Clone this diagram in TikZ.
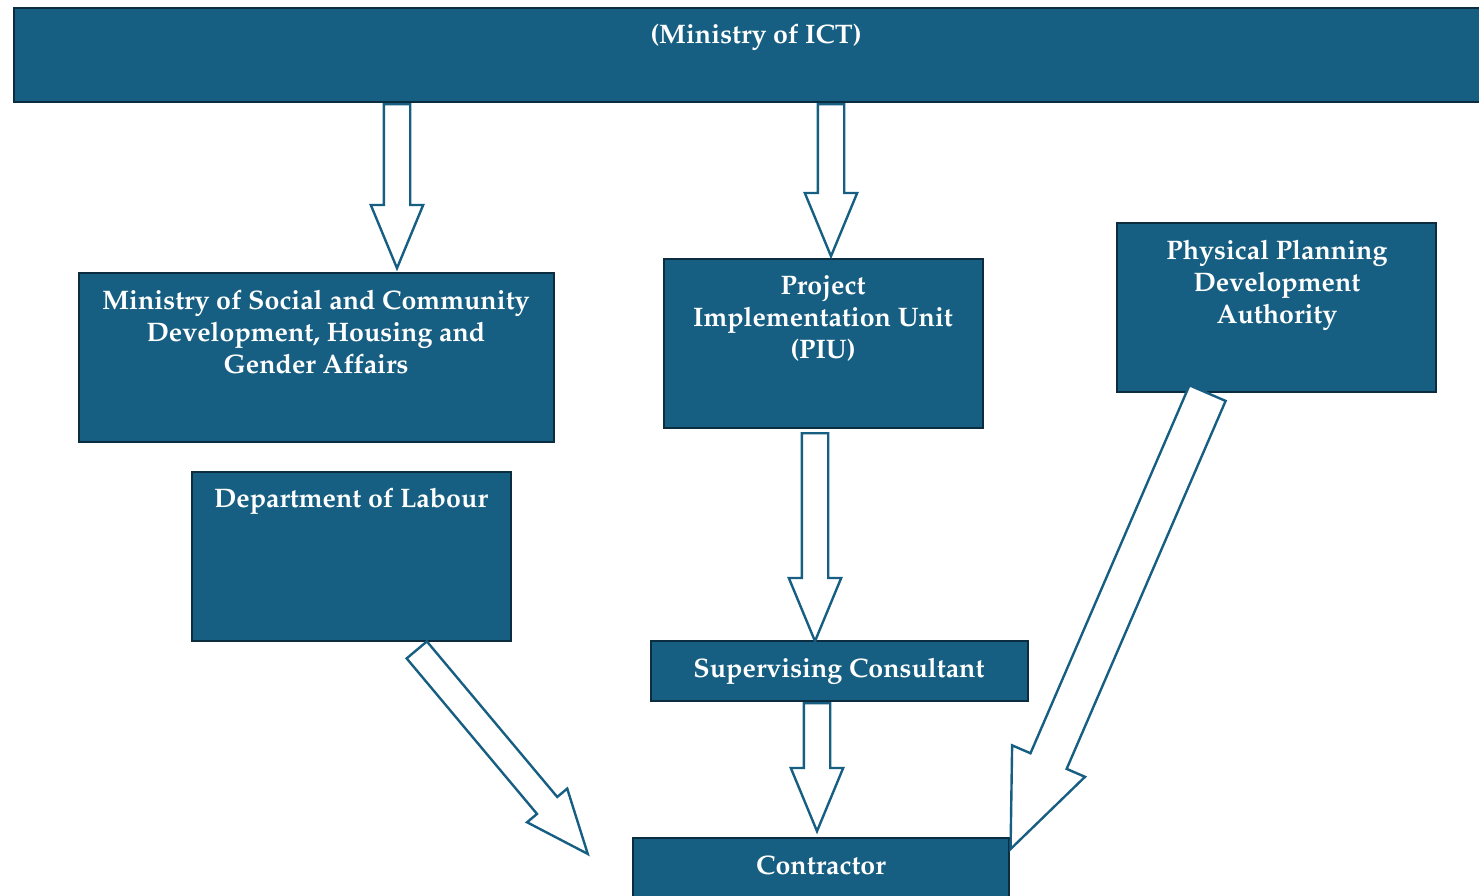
\documentclass[tikz,border=0pt]{standalone}
\usepackage[T1]{fontenc}
\renewcommand{\rmdefault}{ppl}
\usepackage{tikz}
\usetikzlibrary{shapes.arrows,calc}
\definecolor{orgblue}{RGB}{23,95,130}
\definecolor{orgdark}{RGB}{12,45,64}
\tikzstyle{unit} = [rectangle, draw=orgdark, fill=orgblue, line width=1pt, inner sep=0pt]
\tikzstyle{unittext} = [text=white, font=\fontsize{13.4}{16}\selectfont\bfseries, align=center, inner sep=0pt, anchor=north]
\tikzstyle{flow} = [single arrow, draw=orgblue, fill=white, line width=1.2pt, inner xsep=0pt, inner ysep=6pt, single arrow head extend=6.5pt, single arrow tip angle=45, sloped, allow upside down, pos=0, anchor=tail]
\tikzstyle{bigflow} = [flow, inner ysep=9.25pt, single arrow head extend=10pt]
\newcommand{\flowarrow}[2][flow]{\path let \p1=($(#2-e)-(#2-s)$), \n1={veclen(\x1,\y1)} in (#2-s) -- node[#1, minimum height=\n1] (#2) {} (#2-e);}

\begin{document}
\begin{tikzpicture}[x=0.5pt, y=-0.5pt]
\useasboundingbox (0,0) rectangle (1479,895);

% top level
\node[unit, minimum width=743pt, minimum height=47pt] (ict) at (757,55) {};
\node[unittext] (ict-t) at (756,24) {(Ministry of ICT)};

% second row
\node[unit, minimum width=237.5pt, minimum height=84.5pt] (msc) at (316.5,357.5) {};
\node[unittext] (msc-t) at (316,290) {Ministry of Social and Community\\Development, Housing and\\Gender Affairs};

\node[unit, minimum width=159.5pt, minimum height=84.5pt] (piu) at (823.5,343.5) {};
\node[unittext] (piu-t) at (823,275) {Project\\Implementation Unit\\(PIU)};

\node[unit, minimum width=159.5pt, minimum height=84.5pt] (ppda) at (1276.5,307.5) {};
\node[unittext] (ppda-t) at (1277,240) {Physical Planning\\Development\\Authority};

% lower boxes
\node[unit, minimum width=159.5pt, minimum height=84.5pt] (dol) at (351.5,556.5) {};
\node[unittext] (dol-t) at (351,488) {Department of Labour};

\node[unit, minimum width=188.5pt, minimum height=30pt] (sc) at (839.5,671) {};
\node[unittext] (sc-t) at (839,658) {Supervising Consultant};

\node[unit, minimum width=188pt, minimum height=30pt] (con) at (821,868) {};
\node[unittext] (con-t) at (821,855) {Contractor};

% arrow ends
\coordinate (ict-msc-s) at (397,103);
\coordinate (ict-msc-e) at (397,267);
\coordinate (ict-piu-s) at (831,103);
\coordinate (ict-piu-e) at (831,255);
\coordinate (piu-sc-s) at (815,432);
\coordinate (piu-sc-e) at (815,640);
\coordinate (sc-con-s) at (817,702);
\coordinate (sc-con-e) at (817,830);
\coordinate (dol-con-s) at (416,649);
\coordinate (dol-con-e) at (587,853);
\coordinate (ppda-con-s) at (1208,392);
\coordinate (ppda-con-e) at (1011,848);

% hollow arrows
\flowarrow{ict-msc}
\flowarrow{ict-piu}
\flowarrow{piu-sc}
\flowarrow{sc-con}
\flowarrow{dol-con}
\flowarrow[bigflow]{ppda-con}
\end{tikzpicture}
\end{document}
